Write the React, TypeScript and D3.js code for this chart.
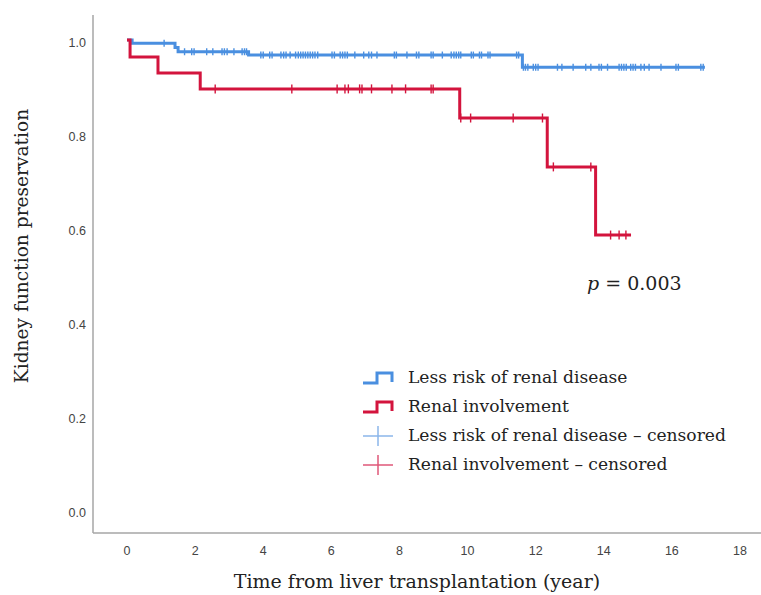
import * as d3 from "d3";

// ticks
const xTicks = [0, 2, 4, 6, 8, 10, 12, 14, 16, 18];
const yTicks = [0, 0.2, 0.4, 0.6, 0.8, 1.0];

// Less risk of renal disease: step times / survival after the step
const lowTimes = [0, 0.15, 1.41, 1.5, 3.57, 11.61];
const lowSurv = [1.0, 0.993, 0.984, 0.975, 0.968, 0.942];
const lowEnd = 16.97;
const lowCensored = [
  1.09, 1.69, 1.9, 1.97, 2.34, 2.52, 2.79, 2.86, 2.94, 3.14, 3.38, 3.45, 3.51,
  3.93, 4.0, 4.19, 4.26, 4.52, 4.6, 4.67, 4.79, 4.95, 5.03, 5.1, 5.17, 5.24,
  5.31, 5.38, 5.45, 5.52, 5.6, 6.02, 6.09, 6.26, 6.33, 6.4, 6.47, 6.69, 6.95,
  7.1, 7.18, 7.34, 7.85, 7.91, 8.22, 8.5, 8.57, 8.93, 8.99, 9.26, 9.52, 9.6,
  9.67, 9.74, 9.8, 10.11, 10.17, 10.35, 10.41, 10.6, 10.66, 11.44, 11.5,
  11.64, 11.7, 11.77, 11.93, 12.0, 12.07, 12.64, 12.77, 13.1, 13.47, 13.62,
  13.86, 13.93, 14.11, 14.45, 14.52, 14.59, 14.66, 14.79, 14.86, 14.93, 15.09,
  15.19, 15.33, 15.68, 16.12, 16.19, 16.85, 16.92,
];

// Renal involvement
const renalTimes = [0, 0.09, 0.91, 2.15, 9.77, 12.34, 13.76];
const renalSurv = [1.0, 0.964, 0.93, 0.896, 0.834, 0.73, 0.585];
const renalEnd = 14.8;
const renalCensored = [
  2.59, 4.84, 6.17, 6.4, 6.5, 6.83, 6.9, 7.18, 7.78, 8.18, 8.93, 8.99, 9.8,
  10.09, 11.34, 12.2, 12.52, 13.62, 14.2, 14.45, 14.65,
];

const legendLabels = [
  "Less risk of renal disease",
  "Renal involvement",
  "Less risk of renal disease \u2013 censored",
  "Renal involvement \u2013 censored",
];

const BLUE = "#4a8fe0";
const RED = "#d3143d";
const BLUE_LIGHT = "#8cb6ea";
const RED_LIGHT = "#e0587a";

const W = 761;
const H = 595;

const x = d3.scaleLinear().domain([0, 18]).range([127, 740]);
const y = d3.scaleLinear().domain([0, 1]).range([510, 40]);

function survAt(times: number[], surv: number[], t: number) {
  const i = d3.bisectRight(times, t) - 1;
  return surv[Math.max(0, i)];
}

function stepPath(times: number[], surv: number[], end: number) {
  const pts: [number, number][] = times.map((t, i) => [t, surv[i]]);
  pts.push([end, surv[surv.length - 1]]);
  return d3
    .line<[number, number]>()
    .x((d) => x(d[0]))
    .y((d) => y(d[1]))
    .curve(d3.curveStepAfter)(pts) as string;
}

export default function App() {
  const sans = "'Liberation Sans', Arial, sans-serif";
  const serif = "'DejaVu Serif', serif";
  const series = [
    { times: lowTimes, surv: lowSurv, end: lowEnd, cens: lowCensored, color: BLUE, tick: 3.5 },
    { times: renalTimes, surv: renalSurv, end: renalEnd, cens: renalCensored, color: RED, tick: 4.5 },
  ];
  const legX = 363;
  const legY = [378, 407, 436, 465];

  return (
    <svg width={W} height={H} style={{ position: "absolute", left: 0, top: 0, background: "#fff" }}>
      <rect width={W} height={H} fill="#fff" />
      {/* axes */}
      <line x1={93} x2={93} y1={15} y2={533} stroke="#a6a6a6" strokeWidth={1.5} />
      <line x1={93} x2={761} y1={533} y2={533} stroke="#a6a6a6" strokeWidth={1.5} />
      {yTicks.map((v) => (
        <text key={v} x={86} y={y(v) + 3} dy="0.35em" textAnchor="end" fontFamily={sans} fontSize={12.5} fill="#444">
          {v.toFixed(1)}
        </text>
      ))}
      {xTicks.map((t) => (
        <text key={t} x={x(t)} y={551} dy="0.35em" textAnchor="middle" fontFamily={sans} fontSize={12.5} fill="#444">
          {t}
        </text>
      ))}
      {/* curves */}
      {series.map((s, k) => (
        <g key={k}>
          <path d={stepPath(s.times, s.surv, s.end)} fill="none" stroke={s.color} strokeWidth={3} />
          {s.cens.map((t, i) => {
            const cx = x(t);
            const cy = y(survAt(s.times, s.surv, t));
            return (
              <line key={i} x1={cx} x2={cx} y1={cy - s.tick} y2={cy + s.tick} stroke={s.color} strokeWidth={1.4} />
            );
          })}
        </g>
      ))}
      {/* p value */}
      <text x={587} y={290} fontFamily={serif} fontSize={19} fill="#222">
        <tspan fontStyle="italic">p</tspan> = 0.003
      </text>
      {/* legend */}
      <path d={`M${legX},${legY[0] + 5}H${legX + 14}V${legY[0] - 5}H${legX + 29}V${legY[0] + 4}`} fill="none" stroke={BLUE} strokeWidth={3} />
      <path d={`M${legX},${legY[1] + 5}H${legX + 14}V${legY[1] - 5}H${legX + 29}V${legY[1] + 4}`} fill="none" stroke={RED} strokeWidth={3} />
      <path d={`M${legX},${legY[2]}H${legX + 30}M${legX + 15},${legY[2] - 10}V${legY[2] + 10}`} fill="none" stroke={BLUE_LIGHT} strokeWidth={1.5} />
      <path d={`M${legX},${legY[3]}H${legX + 30}M${legX + 15},${legY[3] - 10}V${legY[3] + 10}`} fill="none" stroke={RED_LIGHT} strokeWidth={1.5} />
      {legendLabels.map((l, i) => (
        <text key={l} x={408} y={legY[i]} dy="0.32em" fontFamily={serif} fontSize={17.1} fill="#222">
          {l}
        </text>
      ))}
      {/* axis titles */}
      <text x={417} y={581} dy="0.35em" textAnchor="middle" fontFamily={serif} fontSize={19} fill="#222">
        Time from liver transplantation (year)
      </text>
      <text transform="translate(21,246) rotate(-90)" dy="0.35em" textAnchor="middle" fontFamily={serif} fontSize={18.6} fill="#222">
        Kidney function preservation
      </text>
    </svg>
  );
}
